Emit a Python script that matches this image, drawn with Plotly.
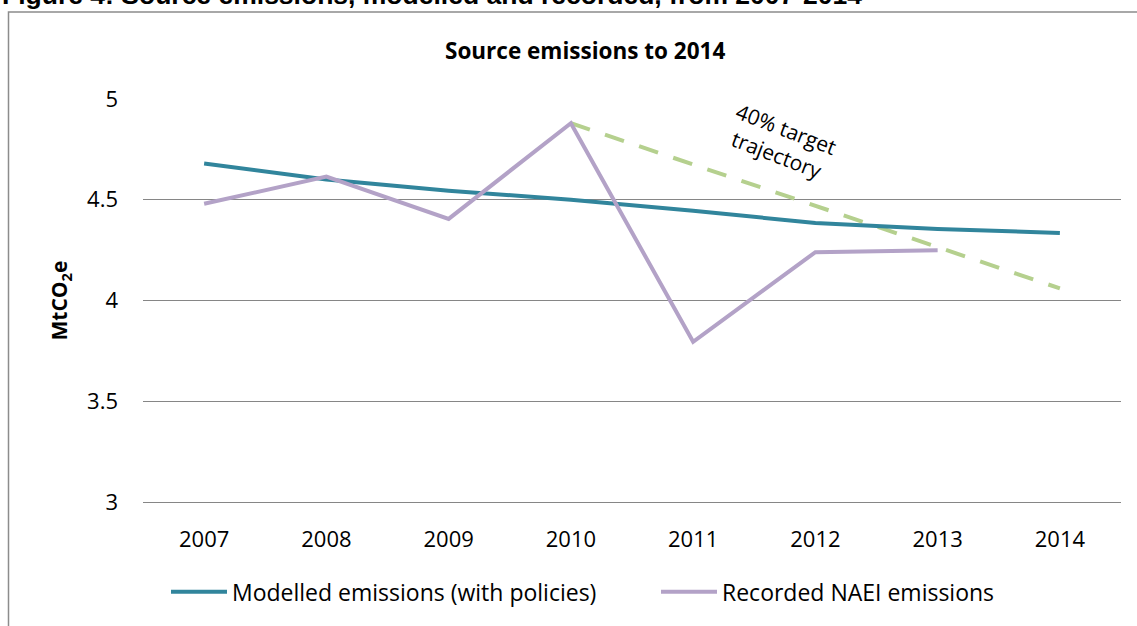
import plotly.graph_objects as go

years = ["2007", "2008", "2009", "2010", "2011", "2012", "2013", "2014"]
modelled = [4.68, 4.60, 4.545, 4.50, 4.445, 4.385, 4.355, 4.335]
recorded = [4.48, 4.615, 4.405, 4.88, 3.795, 4.24, 4.25, None]
target = [None, None, None, 4.88, 4.675, 4.47, 4.265, 4.06]

FONT = "'Open Sans', Lato, sans-serif"

fig = go.Figure()
fig.add_trace(go.Scatter(x=years, y=target, mode="lines", showlegend=False,
                         line=dict(color="#B5D08E", width=4, dash="20px,16px")))
fig.add_trace(go.Scatter(x=years, y=modelled, mode="lines", name="Modelled emissions (with policies)",
                         line=dict(color="#31859C", width=4)))
fig.add_trace(go.Scatter(x=years, y=recorded, mode="lines", name="Recorded NAEI emissions",
                         line=dict(color="#B3A2C7", width=4)))

fig.update_layout(
    width=1137, height=626,
    margin=dict(l=143, r=16, t=99, b=124, autoexpand=False),
    paper_bgcolor="white", plot_bgcolor="white",
    font=dict(family=FONT, size=22, color="black"),
    showlegend=True,
    legend=dict(orientation="h", x=(1146 - 143) / 978, xanchor="right", y=-0.223, yanchor="middle",
                font=dict(size=23), itemwidth=56, traceorder="normal",
                entrywidth=419, entrywidthmode="pixels"),
    xaxis=dict(type="category", range=[-0.5, 7.5], showgrid=False, showline=True,
               linecolor="#868686", linewidth=1,
               zeroline=False, ticks="", ticklabelstandoff=18, tickfont=dict(size=22)),
    yaxis=dict(range=[3, 5], dtick=0.5, showgrid=True, gridcolor="#868686", gridwidth=1,
               zeroline=False, showline=False, ticks="", ticklabelstandoff=24,
               tickfont=dict(size=22), tickformat="~g",
               title=dict(text="<b>MtCO<sub>2</sub>e</b>", font=dict(size=21), standoff=13)),
)

# outer chart border
fig.add_shape(type="rect", xref="paper", yref="paper",
              x0=(8.5 - 143) / 978, x1=(1145 - 143) / 978,
              y0=(502 - 640) / 403, y1=(502 - 12) / 403,
              line=dict(color="#8C8C8C", width=1.5), fillcolor="rgba(0,0,0,0)", layer="below")

fig.add_annotation(xref="paper", yref="paper", x=(585 - 143) / 978, y=(502 - 51) / 403,
                   xanchor="center", yanchor="middle",
                   text="<b>Source emissions to 2014</b>", showarrow=False,
                   font=dict(size=22.5, family=FONT))

fig.add_annotation(xref="paper", yref="paper", x=(0 - 143) / 978, xanchor="left",
                   y=(502 - 12) / 403, yanchor="bottom",
                   text="<b>Figure 4: Source emissions, modelled and recorded, from 2007-2014</b>",
                   showarrow=False, font=dict(size=26.5, family="Arial, 'Liberation Sans', sans-serif"))

fig.add_annotation(xref="paper", yref="paper", x=(781 - 143) / 978, y=(502 - 141) / 403,
                   xanchor="center", yanchor="middle",
                   text="40% target<br>trajectory", showarrow=False, textangle=21,
                   bgcolor="white", borderpad=7, font=dict(size=21, family=FONT))

fig.write_html("out.html", post_script="document.body.style.margin='0';",
               config={"displayModeBar": False})
